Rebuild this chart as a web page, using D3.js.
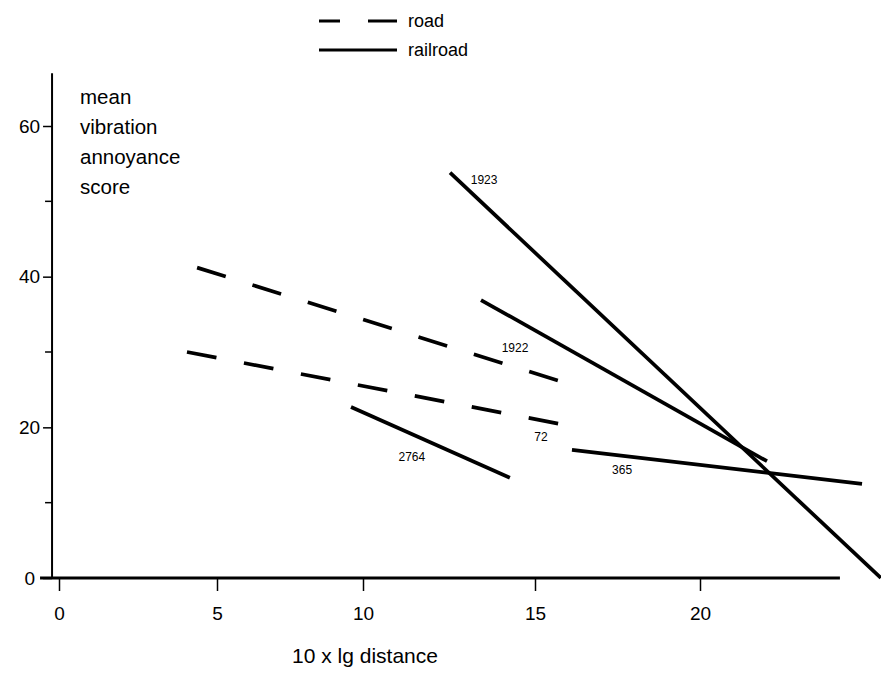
<!DOCTYPE html>
<html>
<head>
<meta charset="utf-8">
<script src="https://cdn.jsdelivr.net/npm/d3@7"></script>
<style>
    body { margin: 0; background: #fff; }
    text { font-family: "Liberation Sans", Arial, Helvetica, sans-serif; fill: #000; }
</style>
</head>
<body>
<div id="chart"></div>
<script>
// data
var xTicks = [0, 5, 10, 15, 20];
var yTicks = [0, 20, 40, 60];
var yMinorTicks = [10, 30, 50];

// road (dashed)
var roadUpper = [[4.37, 41.2], [15.7, 26.2]];
var roadLower = [[4.05, 30.0], [15.7, 20.5]];
// railroad (solid)
var rail1923 = [[12.53, 53.8], [25.48, 0]];
var railUpper = [[13.43, 36.9], [22.03, 15.5]];
var rail365 = [[16.12, 17.0], [24.91, 12.5]];
var rail2764 = [[9.59, 22.7], [14.27, 13.3]];

var labelTexts = ["1923", "1922", "72", "2764", "365"];
var labelX = [13.52, 14.42, 15.18, 11.42, 17.64];
var labelY = [52.9, 30.5, 18.7, 16.1, 14.3];

var yTitle = ["mean", "vibration", "annoyance", "score"];
var xTitle = "10 x lg distance";

var width = 881, height = 695;

var svg = d3.select("#chart")
    .append("svg")
    .attr("width", width)
    .attr("height", height);

// the scanned axis is not evenly spaced, so the scale follows its ticks
var x = d3.scaleLinear()
    .domain([0, 5, 10, 15, 20])
    .range([59, 217, 363, 535, 700]);

var y = d3.scaleLinear()
    .domain([0, 60])
    .range([578, 126]);

// x axis
var xAxis = d3.axisBottom(x)
    .tickValues(xTicks)
    .tickSize(13)
    .tickPadding(15)
    .tickSizeOuter(0);

var gx = svg.append("g")
    .attr("transform", "translate(0," + y(0) + ")")
    .call(xAxis);
gx.select(".domain").remove();
gx.append("line")
    .attr("x1", x(-0.6))
    .attr("x2", x(24.24))
    .attr("stroke", "#000")
    .attr("stroke-width", 2.8);
gx.selectAll(".tick line").attr("stroke-width", 1.5);
gx.selectAll(".tick text")
    .style("font-size", "19px")
    .attr("dy", "0.75em");

// y axis
var yAxisX = x(-0.22);
var yAxis = d3.axisLeft(y)
    .tickValues(yTicks)
    .tickSize(9)
    .tickPadding(3)
    .tickSizeOuter(0);

var gy = svg.append("g")
    .attr("transform", "translate(" + yAxisX + ",0)")
    .call(yAxis);
gy.select(".domain").remove();
gy.append("line")
    .attr("y1", y(0))
    .attr("y2", y(67))
    .attr("stroke", "#000")
    .attr("stroke-width", 2);
gy.selectAll(".tick line").attr("stroke-width", 1.5);
gy.selectAll(".tick text")
    .style("font-size", "19px")
    .attr("dx", function (d) { return d === 0 ? -5 : 0; });

gy.selectAll(".minor")
    .data(yMinorTicks)
    .enter()
    .append("line")
    .attr("class", "minor")
    .attr("x1", -7)
    .attr("x2", 0)
    .attr("y1", function (d) { return y(d); })
    .attr("y2", function (d) { return y(d); })
    .attr("stroke", "#000")
    .attr("stroke-width", 1.5);

// lines
var line = d3.line()
    .x(function (d) { return x(d[0]); })
    .y(function (d) { return y(d[1]); });

var series = [
    {pts: roadUpper, dashed: true},
    {pts: roadLower, dashed: true},
    {pts: rail1923, dashed: false},
    {pts: railUpper, dashed: false},
    {pts: rail365, dashed: false},
    {pts: rail2764, dashed: false}
];

svg.selectAll(".series")
    .data(series)
    .enter()
    .append("path")
    .attr("class", "series")
    .attr("d", function (d) { return line(d.pts); })
    .attr("fill", "none")
    .attr("stroke", "#000")
    .attr("stroke-width", 3.7)
    .attr("stroke-dasharray", function (d) { return d.dashed ? "30,28" : null; });

// small labels
svg.selectAll(".lbl")
    .data(labelTexts)
    .enter()
    .append("text")
    .attr("class", "lbl")
    .attr("x", function (d, i) { return x(labelX[i]); })
    .attr("y", function (d, i) { return y(labelY[i]); })
    .attr("text-anchor", "middle")
    .attr("dy", "0.35em")
    .style("font-size", "12px")
    .text(function (d) { return d; });

// y title
svg.append("g")
    .selectAll("text")
    .data(yTitle)
    .enter()
    .append("text")
    .attr("x", 80)
    .attr("y", function (d, i) { return 104 + i * 30; })
    .style("font-size", "20.5px")
    .text(function (d) { return d; });

// x title
svg.append("text")
    .attr("x", 365)
    .attr("y", 663)
    .attr("text-anchor", "middle")
    .style("font-size", "21px")
    .text(xTitle);

// legend
var legend = svg.append("g");
legend.append("line")
    .attr("x1", 319).attr("x2", 397)
    .attr("y1", 21).attr("y2", 21)
    .attr("stroke", "#000")
    .attr("stroke-width", 3)
    .attr("stroke-dasharray", "21,28,29,100");
legend.append("line")
    .attr("x1", 319).attr("x2", 397)
    .attr("y1", 50).attr("y2", 50)
    .attr("stroke", "#000")
    .attr("stroke-width", 3);
legend.append("text")
    .attr("x", 408).attr("y", 27)
    .style("font-size", "18px")
    .text("road");
legend.append("text")
    .attr("x", 408).attr("y", 56)
    .style("font-size", "18px")
    .text("railroad");
</script>
</body>
</html>
